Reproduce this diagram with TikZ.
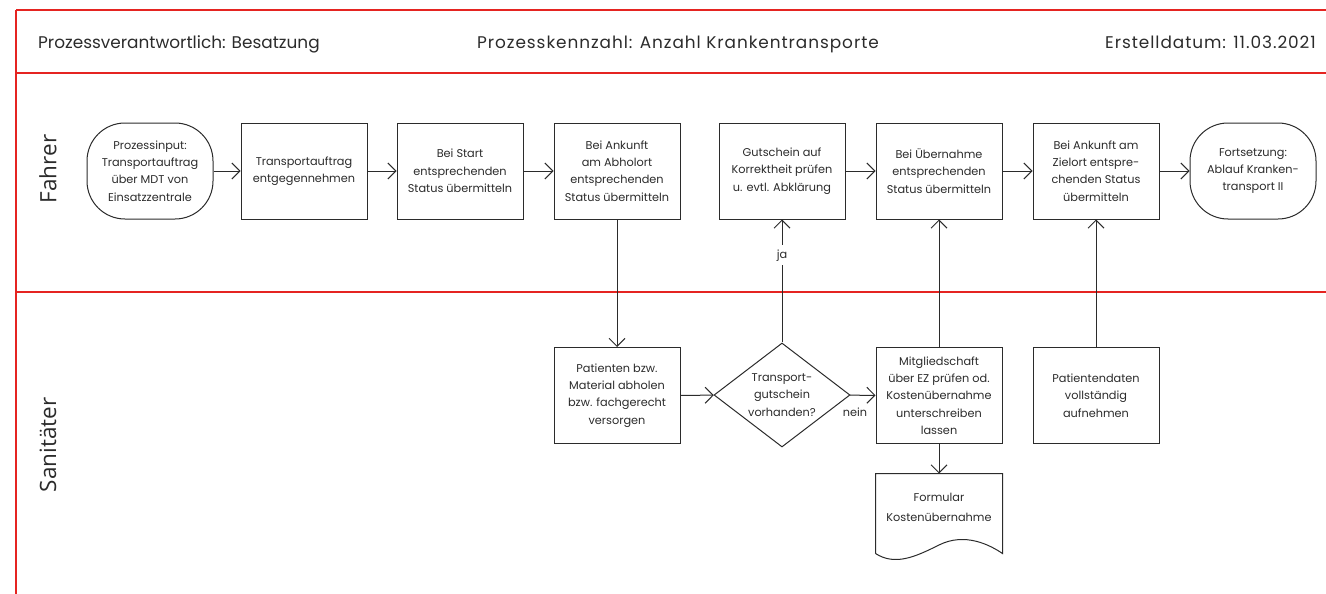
\documentclass[tikz,border=0pt]{standalone}
\usepackage{fontspec}
\setmainfont{Poppins}
\newfontfamily\lanefont{Open Sans}
\newfontfamily\widefont[LetterSpace=5.6]{Poppins}
\usetikzlibrary{arrows.meta,shapes.geometric}
\definecolor{lanered}{HTML}{E52421}
\definecolor{ink}{HTML}{2B2B2B}
\tikzset{
  proc/.style={draw=ink, line width=1pt, minimum width=126pt, minimum height=96pt, inner sep=0pt,
     align=center, font=\fontsize{11.3}{17.3}\selectfont, text=ink},
  term/.style={proc, rounded corners=38pt},
  deci/.style={draw=ink, line width=1pt, diamond, aspect=1.31, minimum width=136pt, minimum height=104pt,
     inner sep=0pt, align=center, font=\fontsize{11.3}{17.3}\selectfont, text=ink},
  flow/.style={draw=ink, line width=1pt, -{Straight Barb[length=8pt,width=16pt,line width=1pt]}},
  swim/.style={draw=lanered, line width=1.2pt},
  hdr/.style={font=\fontsize{16.9}{20}\selectfont, text=ink, inner sep=0pt},
  hdrw/.style={font=\widefont\fontsize{16.9}{20}\selectfont, text=ink, inner sep=0pt},
  lane/.style={font=\lanefont\fontsize{22.5}{26}\selectfont, text=ink, rotate=90, inner sep=0pt},
  lbl/.style={font=\fontsize{11.3}{14}\selectfont, text=ink, inner sep=2pt}
}
\begin{document}
\begin{tikzpicture}[x=1pt,y=-1pt]
\useasboundingbox (0,0) rectangle (1326,594);
% frame
\coordinate (tl) at (16,10);
\coordinate (tr) at (1326,10);
\coordinate (hl) at (16,73);
\coordinate (hr) at (1326,73);
\coordinate (ll) at (16,292);
\coordinate (lr) at (1326,292);
\coordinate (bl) at (16,594);
\draw[swim] (tl) -- (tr);
\draw[swim] (hl) -- (hr);
\draw[swim] (ll) -- (lr);
\draw[swim] (tl) -- (bl);
% header
\node[hdr, anchor=base west] (h1) at (38,49) {Prozessverantwortlich: Besatzung};
\node[hdrw, anchor=base] (h2) at (678,49) {Prozesskennzahl: Anzahl Krankentransporte};
\node[hdrw, anchor=base east] (h3) at (1316,49) {Erstelldatum: 11.03.2021};
% lanes
\node[lane] (fahrer) at (48,169) {Fahrer};
\node[lane] (sani) at (48,445) {Sanitäter};
% Fahrer row
\node[term] (start) at (150,171) {Prozessinput:\\Transportauftrag\\über MDT von\\Einsatzzentrale};
\node[proc] (b2) at (304,171) {Transportauftrag\\entgegennehmen};
\node[proc] (b3) at (460,171) {Bei Start\\entsprechenden\\Status übermitteln};
\node[proc] (b4) at (617,171) {Bei Ankunft\\am Abholort\\entsprechenden\\Status übermitteln};
\node[proc] (b5) at (782,171) {Gutschein auf\\Korrektheit prüfen\\u. evtl. Abklärung};
\node[proc] (b6) at (939,171) {Bei Übernahme\\entsprechenden\\Status übermitteln};
\node[proc] (b7) at (1096,171) {Bei Ankunft am\\Zielort entspre-\\chenden Status\\übermitteln};
\node[term] (end) at (1253,171) {Fortsetzung:\\Ablauf Kranken-\\transport II};
% Sanitaeter row
\node[proc] (pat) at (617,395.5) {Patienten bzw.\\Material abholen\\bzw. fachgerecht\\versorgen};
\node[deci] (dia) at (782,395) {Transport-\\gutschein\\vorhanden?};
\node[proc] (mit) at (939,395.5) {Mitgliedschaft\\über EZ prüfen od.\\Kostenübernahme\\unterschreiben\\lassen};
\node[proc] (pd) at (1096,395.5) {Patientendaten\\vollständig\\aufnehmen};
\node[proc, draw=none, minimum height=79pt] (form) at (939,513.5) {};
\node[lbl, align=center, font=\fontsize{11.3}{20}\selectfont] (formt) at (939,507) {Formular\\Kostenübernahme};
\draw[draw=ink, line width=1pt] (form.south west) -- (form.north west) -- (form.north east) -- (form.south east)
  .. controls (990,545) and (965,532) .. (939,545)
  .. controls (915,557) and (895,566) .. (form.south west);
% connectors
\draw[flow] (start) -- (b2);
\draw[flow] (b2) -- (b3);
\draw[flow] (b3) -- (b4);
\draw[flow] (b5) -- (b6);
\draw[flow] (b6) -- (b7);
\draw[flow] (b7) -- (end);
\draw[flow] (b4) -- (pat);
\draw[flow] (pat) -- (dia);
\draw[flow] (dia) -- (mit);
\draw[flow] (dia) -- node[pos=0.71, fill=white, lbl, inner sep=4pt] (ja) {ja} (b5);
\draw[flow] (mit) -- (b6);
\draw[flow] (pd) -- (b7);
\draw[flow] (mit) -- (form);
\node[lbl] (nein) at (855,412) {nein};
\end{tikzpicture}
\end{document}
